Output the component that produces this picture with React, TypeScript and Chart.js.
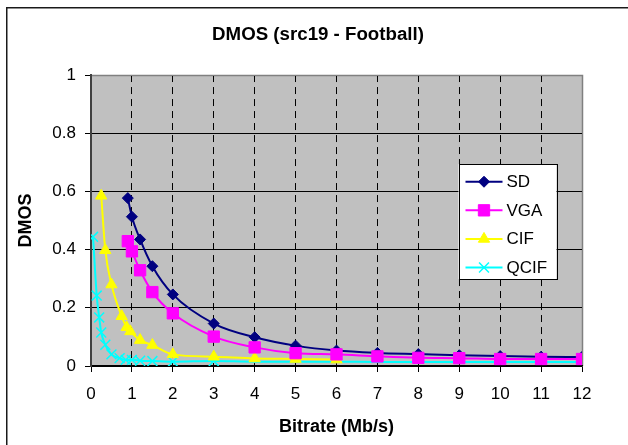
import React, { useEffect, useRef } from 'react';
import { Chart, registerables } from 'chart.js';
import { drawPoint } from 'chart.js/helpers';

Chart.register(...registerables);

const TITLE = 'DMOS (src19 - Football)';
const X_TITLE = 'Bitrate (Mb/s)';
const Y_TITLE = 'DMOS';

const seriesNames = ['SD', 'VGA', 'CIF', 'QCIF'];

const sdX = [0.9, 1.0, 1.2, 1.5, 2, 3, 4, 5, 6, 7, 8, 9, 10, 11, 12];
const sdY = [0.577, 0.513, 0.435, 0.343, 0.246, 0.146, 0.099, 0.07, 0.053, 0.045, 0.041, 0.037, 0.034, 0.032, 0.031];

const vgaX = [0.9, 1.0, 1.2, 1.5, 2, 3, 4, 5, 6, 7, 8, 9, 10, 11, 12];
const vgaY = [0.429, 0.394, 0.329, 0.254, 0.181, 0.101, 0.064, 0.044, 0.04, 0.033, 0.028, 0.027, 0.024, 0.024, 0.024];

const cifX = [0.25, 0.35, 0.5, 0.75, 0.87, 0.96, 1.2, 1.5, 2, 3, 4, 5, 6];
const cifY = [0.585, 0.398, 0.28, 0.171, 0.133, 0.119, 0.089, 0.072, 0.04, 0.032, 0.026, 0.024, 0.022];

const qcifX = [0.05, 0.14, 0.2, 0.25, 0.35, 0.5, 0.7, 0.85, 1.0, 1.2, 1.5, 2, 3, 4, 5, 6, 7, 8, 9, 10, 11, 12];
const qcifY = [0.444, 0.242, 0.167, 0.115, 0.073, 0.04, 0.027, 0.021, 0.021, 0.018, 0.017, 0.015, 0.017, 0.015, 0.015, 0.015, 0.014, 0.014, 0.014, 0.014, 0.014, 0.014];

const xTickValues = [0, 1, 2, 3, 4, 5, 6, 7, 8, 9, 10, 11, 12];
const yTickLabels = ['0', '0.2', '0.4', '0.6', '0.8', '1'];

const FONT = '"Liberation Sans", Arial, Helvetica, sans-serif';

function pts(xs: number[], ys: number[]) {
  return xs.map((x, i) => ({ x, y: ys[i] }));
}

const frameAndPlotBg = {
  id: 'frameAndPlotBg',
  beforeDraw(chart: any) {
    const { ctx, chartArea } = chart;
    ctx.save();
    ctx.fillStyle = '#ffffff';
    ctx.fillRect(0, 0, chart.width, chart.height);
    ctx.strokeStyle = '#1a1a1a';
    ctx.lineWidth = 1.5;
    ctx.beginPath();
    ctx.moveTo(6.75, chart.height + 2);
    ctx.lineTo(6.75, 7.75);
    ctx.lineTo(chart.width + 2, 7.75);
    ctx.stroke();
    ctx.fillStyle = '#C0C0C0';
    ctx.fillRect(chartArea.left, chartArea.top, chartArea.right - chartArea.left, chartArea.bottom - chartArea.top);
    ctx.strokeStyle = '#808080';
    ctx.lineWidth = 1.5;
    ctx.beginPath();
    ctx.moveTo(chartArea.left, chartArea.top + 0.5);
    ctx.lineTo(chartArea.right + 0.5, chartArea.top + 0.5);
    ctx.lineTo(chartArea.right + 0.5, chartArea.bottom);
    ctx.stroke();
    ctx.restore();
  },
};

const boxLegend = {
  id: 'boxLegend',
  afterDraw(chart: any) {
    const { ctx, chartArea } = chart;
    const left = chartArea.right - 123.5;
    const top = chartArea.top + 89;
    const w = 98;
    const h = 115;
    ctx.save();
    ctx.fillStyle = '#ffffff';
    ctx.fillRect(left, top, w, h);
    ctx.strokeStyle = '#000000';
    ctx.lineWidth = 1;
    ctx.strokeRect(Math.round(left) + 0.5, Math.round(top) + 0.5, w, h);
    ctx.font = '17px ' + FONT;
    ctx.textBaseline = 'middle';
    ctx.textAlign = 'left';
    seriesNames.forEach((name, i) => {
      const ds = chart.data.datasets.find((d: any) => d.label === name);
      const y = top + 17.7 + i * 28.6;
      ctx.strokeStyle = ds.borderColor;
      ctx.lineWidth = ds.borderWidth;
      ctx.beginPath();
      ctx.moveTo(left + 7, y);
      ctx.lineTo(left + 44, y);
      ctx.stroke();
      ctx.fillStyle = ds.pointBackgroundColor;
      ctx.strokeStyle = ds.pointBorderColor;
      ctx.lineWidth = ds.pointBorderWidth;
      drawPoint(ctx, { pointStyle: ds.pointStyle, radius: ds.legendRadius, rotation: 0, borderWidth: ds.pointBorderWidth }, left + 25.5, y);
      ctx.fillStyle = '#000000';
      ctx.fillText(name, left + 48, y + 0.5);
    });
    ctx.restore();
  },
};

export default function App() {
  const ref = useRef<HTMLCanvasElement>(null);
  useEffect(() => {
    Chart.defaults.font.family = FONT;
    Chart.defaults.color = '#000000';
    const mk = (label: string, xs: number[], ys: number[], color: string, style: string, radius: number, order: number, extra: any = {}) => ({
      label,
      data: pts(xs, ys),
      borderColor: color,
      backgroundColor: color,
      pointBackgroundColor: color,
      pointBorderColor: color,
      borderWidth: 2,
      pointBorderWidth: 1,
      pointStyle: style,
      pointRadius: radius,
      legendRadius: radius,
      cubicInterpolationMode: 'monotone',
      order,
      xAxisID: 'x',
      yAxisID: 'y',
      ...extra,
    });
    const chart = new Chart(ref.current!, {
      type: 'line',
      data: {
        datasets: [
          mk('SD', sdX, sdY, '#000080', 'rectRot', 5.5, 1),
          mk('VGA', vgaX, vgaY, '#FF00FF', 'rect', 8, 0),
          mk('CIF', cifX, cifY, '#FFFF00', 'triangle', 6.5, 2),
          mk('QCIF', qcifX, qcifY, '#00FFFF', 'crossRot', 7, 3, {
            pointBorderWidth: 1.5,
            pointRadius: (c: any) => (c.raw && c.raw.x > 3 ? 0 : 7),
          }),
        ] as any,
      },
      options: {
        responsive: false,
        animation: false,
        layout: { padding: { left: 8, right: 0, top: 0, bottom: 0 } },
        plugins: {
          legend: { display: false },
          tooltip: { enabled: false },
          title: {
            display: true,
            text: TITLE,
            color: '#000000',
            font: { size: 18.7, weight: 'bold', family: FONT },
            padding: { top: 23.3, bottom: 29.3 },
          },
        },
        scales: {
          x: {
            type: 'linear',
            min: 0,
            max: 12,
            afterFit: (s: any) => { s.height = 79; },
            afterBuildTicks: (s: any) => { s.ticks = xTickValues.map((v) => ({ value: v })); },
            ticks: {
              stepSize: 1,
              padding: 12.3,
              color: '#000000',
              font: { size: 17, family: FONT },
              maxRotation: 0,
              callback: (v: any) => String(v),
            },
            grid: {
              color: (c: any) => (c.tick && (c.tick.value === 0 || c.tick.value === 12) ? 'rgba(0,0,0,0)' : '#000000'),
              lineWidth: 1,
              tickLength: 6,
              tickColor: '#000000',
              tickWidth: 1,
            },
            border: { display: true, color: '#000000', width: 1.5, dash: [7, 5] },
            title: {
              display: true,
              text: X_TITLE,
              color: '#000000',
              font: { size: 18, weight: 'bold', family: FONT },
              padding: { top: 0, bottom: 7.5 },
            },
          },
          y: {
            type: 'linear',
            position: 'left',
            min: 0,
            max: 1,
            afterFit: (s: any) => { s.width = 83; },
            ticks: {
              stepSize: 0.2,
              padding: 9,
              color: '#000000',
              font: { size: 17, family: FONT },
              callback: (v: any, i: number) => yTickLabels[i] ?? String(v),
            },
            grid: {
              color: (c: any) => (c.tick && Math.abs(c.tick.value - 1) < 1e-6 ? '#808080' : '#000000'),
              lineWidth: 1,
              tickLength: 6,
              tickColor: '#000000',
              tickWidth: 1,
            },
            border: { display: true, color: '#404040', width: 2 },
            title: {
              display: true,
              text: Y_TITLE,
              color: '#000000',
              font: { size: 18, weight: 'bold', family: FONT },
              padding: { top: 7.7, bottom: 0 },
            },
          },
          yRight: {
            type: 'linear',
            position: 'right',
            min: 0,
            max: 1,
            afterFit: (s: any) => { s.width = 46; },
            ticks: { display: false },
            grid: { display: false, drawOnChartArea: false, drawTicks: false },
            border: { display: false },
          },
        },
      },
      plugins: [frameAndPlotBg, boxLegend],
    } as any);
    return () => chart.destroy();
  }, []);
  return (
    <div style={{ position: 'absolute', left: 0, top: 0, width: 628, height: 445 }}>
      <canvas ref={ref} width={628} height={445} style={{ width: 628, height: 445, display: 'block' }} />
    </div>
  );
}
